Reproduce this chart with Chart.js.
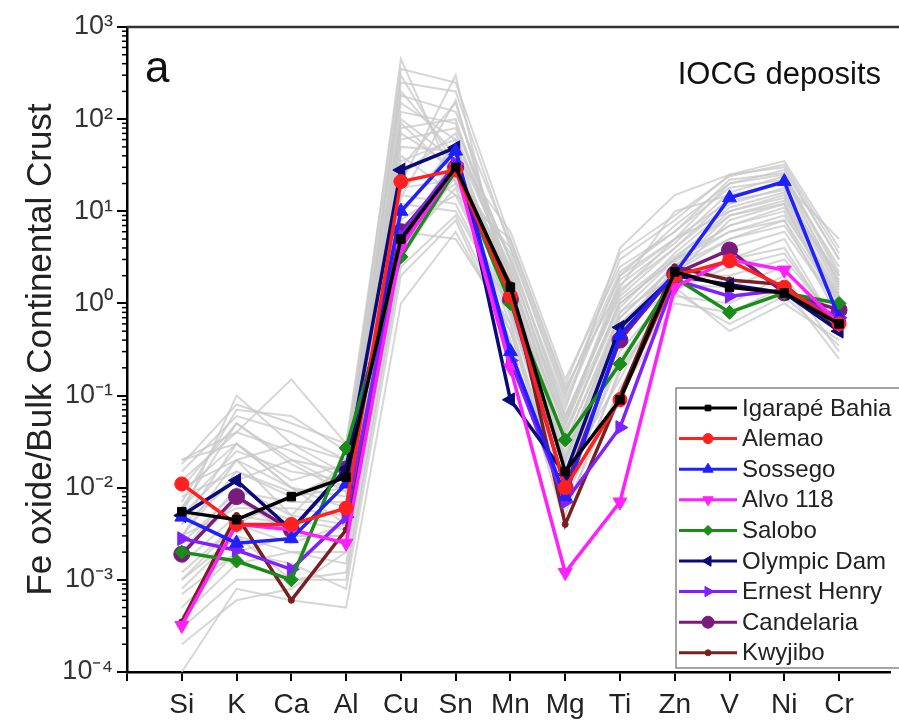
<!DOCTYPE html>
<html>
<head>
<meta charset="utf-8">
<script src="https://cdn.jsdelivr.net/npm/chart.js@4/dist/chart.umd.min.js"></script>
<style>
  html, body { margin: 0; padding: 0; background: #fff; }
  #wrap { width: 899px; height: 725px; position: relative; }
</style>
</head>
<body>
<div id="wrap"><canvas id="chartCanvas" width="899" height="725"></canvas></div>
<script>
// elements on the x axis
const elements = ['Si', 'K', 'Ca', 'Al', 'Cu', 'Sn', 'Mn', 'Mg', 'Ti', 'Zn', 'V', 'Ni', 'Cr'];
const yDecades = [-4, -3, -2, -1, 0, 1, 2, 3];

// deposit averages (Fe oxide / bulk continental crust)
const igarapeBahia = [0.0055, 0.0045, 0.008, 0.013, 5, 30, 1.5, 0.015, 0.09, 2.2, 1.5, 1.3, 0.6];
const alemao       = [0.011, 0.004, 0.004, 0.006, 21, 28, 1.2, 0.01, 0.09, 2.0, 2.9, 1.5, 0.6];
const sossego      = [0.0048, 0.0025, 0.0028, 0.011, 10, 45, 0.3, 0.008, 0.45, 2.1, 14, 21, 0.7];
const alvo118      = [0.00032, 0.004, 0.0035, 0.0025, 4, 30, 0.2, 0.0012, 0.007, 1.5, 3.0, 2.3, 0.6];
const salobo       = [0.002, 0.0016, 0.001, 0.027, 3.2, 28, 1.0, 0.033, 0.22, 1.9, 0.8, 1.3, 1.0];
const olympicDam   = [0.005, 0.012, 0.0035, 0.016, 28, 49, 0.09, 0.014, 0.55, 2.0, 1.6, 1.3, 0.5];
const ernestHenry  = [0.0028, 0.0021, 0.0013, 0.0048, 5.5, 33, 0.24, 0.007, 0.045, 1.8, 1.2, 1.4, 0.7];
const candelaria   = [0.0019, 0.008, 0.0035, 0.016, 6, 30, 1.1, 0.01, 0.4, 2.1, 3.8, 1.3, 0.85];
const kwyjibo      = [0.00035, 0.005, 0.0006, 0.0035, 4.5, 27, 1.6, 0.004, 0.1, 2.5, 1.8, 1.6, 0.5];

// individual samples drawn in grey behind the averages
const greyLines = [
  [0.003, 0.02, 0.01, 0.008, 300, 30, 2, 0.05, 1, 3, 10, 15, 1],
  [0.01, 0.05, 0.02, 0.015, 150, 60, 3, 0.08, 2, 5, 20, 25, 2],
  [0.002, 0.01, 0.005, 0.004, 80, 100, 1.5, 0.03, 0.8, 2, 8, 12, 0.8],
  [0.005, 0.1, 0.03, 0.02, 450, 20, 4, 0.1, 3, 8, 25, 30, 3],
  [0.001, 0.003, 0.002, 0.002, 20, 300, 0.8, 0.02, 0.5, 1.5, 3, 5, 0.5],
  [0.02, 0.04, 0.15, 0.03, 40, 15, 5, 0.12, 1.5, 10, 15, 20, 5],
  [0.0001, 0.0008, 0.0006, 0.0005, 1, 6, 0.5, 0.005, 0.2, 1.2, 1, 2, 0.3],
  [0.008, 0.015, 0.008, 0.01, 6, 5, 0.6, 0.008, 0.3, 1.5, 0.5, 1, 0.4],
  [0.004, 0.03, 0.01, 0.006, 10, 50, 2.5, 0.06, 1.2, 4, 12, 18, 1.5],
  [0.0003, 0.001, 0.001, 0.001, 3, 25, 1, 0.015, 0.15, 2, 2, 3, 0.6],
  [0.015, 0.06, 0.04, 0.02, 200, 40, 6, 0.15, 2.5, 6, 18, 22, 2.5],
  [0.002, 0.008, 0.003, 0.003, 15, 12, 0.8, 0.01, 0.4, 2.5, 5, 8, 0.7],
  [0.006, 0.025, 0.015, 0.012, 60, 80, 3, 0.07, 4, 15, 25, 35, 4],
  [0.0005, 0.002, 0.0015, 0.0008, 2, 8, 0.4, 0.004, 0.1, 1, 0.8, 1.5, 0.25],
  [0.003, 0.006, 0.006, 0.005, 30, 150, 1.8, 0.04, 1, 3, 6, 9, 1.2],
  [0.01, 0.02, 0.005, 0.02, 100, 35, 2, 0.02, 0.6, 2, 4, 6, 0.9],
  [0.001, 0.004, 0.008, 0.015, 8, 20, 1.2, 0.05, 1.8, 5, 10, 14, 2],
  [0.007, 0.07, 0.06, 0.025, 250, 200, 4, 0.09, 2, 7, 20, 28, 3],
  [0.0002, 0.0006, 0.0008, 0.002, 5, 40, 0.7, 0.012, 0.5, 1.8, 3, 4, 0.5],
  [0.02, 0.03, 0.01, 0.004, 12, 10, 0.9, 0.02, 0.8, 3, 7, 10, 1],
  [0.0015, 0.005, 0.004, 0.006, 35, 60, 2.2, 0.03, 0.7, 2.5, 9, 13, 1.3],
  [0.012, 0.04, 0.025, 0.012, 90, 25, 3.5, 0.06, 1.4, 4, 14, 20, 1.8],
  [0.0007, 0.002, 0.003, 0.003, 7, 15, 0.9, 0.009, 0.25, 1.6, 1.5, 2.5, 0.45],
  [0.004, 0.012, 0.02, 0.01, 25, 70, 2, 0.04, 0.9, 3.5, 11, 16, 1.4],
  [0.009, 0.03, 0.012, 0.018, 180, 120, 4.5, 0.11, 2.2, 6, 22, 26, 2.2],
  [0.0025, 0.009, 0.007, 0.007, 50, 45, 1.6, 0.025, 0.6, 2.2, 5, 7, 0.9],
  [0.0004, 0.0015, 0.002, 0.0015, 4, 18, 0.6, 0.006, 0.12, 1.3, 0.6, 1.2, 0.35],
  [0.006, 0.05, 0.018, 0.009, 120, 90, 2.8, 0.045, 1.6, 4.5, 16, 24, 1.6],
  [0.003, 0.015, 0.009, 0.011, 18, 22, 1.4, 0.018, 0.5, 2.8, 7, 11, 1.1],
  [0.0012, 0.004, 0.0025, 0.004, 9, 55, 1.1, 0.035, 1.1, 3.2, 9, 12, 1.2],
  [0.018, 0.08, 0.05, 0.03, 350, 250, 5, 0.13, 3.5, 9, 24, 32, 3.5],
  [0.0008, 0.003, 0.001, 0.0012, 2.5, 9, 0.5, 0.007, 0.18, 1.4, 2.5, 3.5, 0.55],
  [0.005, 0.02, 0.03, 0.014, 70, 30, 2.4, 0.055, 1.3, 5, 13, 17, 1.7],
  [0.002, 0.007, 0.0045, 0.0035, 14, 160, 1.3, 0.022, 0.7, 2.6, 6, 8, 1]
];

const deposits = [
  ['Igarapé Bahia', igarapeBahia, '#000000', 'rect', 0, 6],
  ['Alemao', alemao, '#ff2020', 'circle', 0, 7],
  ['Sossego', sossego, '#1f1fff', 'triangle', 0, 8],
  ['Alvo 118', alvo118, '#ff20ff', 'triangle', 180, 8],
  ['Salobo', salobo, '#1a8c1a', 'rectRot', 0, 7],
  ['Olympic Dam', olympicDam, '#0a0a7a', 'triangle', -90, 8],
  ['Ernest Henry', ernestHenry, '#7f20ff', 'triangle', 90, 8],
  ['Candelaria', candelaria, '#7a1a7a', 'circle', 0, 8],
  ['Kwyjibo', kwyjibo, '#7a1f1f', 'circle', 0, 3]
];

const toXY = (vals) => vals.map((v, i) => ({x: i, y: v}));

let datasets = deposits.map((d) => ({
  label: d[0],
  data: toXY(d[1]),
  borderColor: d[2],
  backgroundColor: d[2],
  pointStyle: d[3],
  pointRotation: d[4],
  pointRadius: d[5],
  pointBorderWidth: 1,
  borderWidth: 3.5,
  order: 0,
  isDeposit: true
}));

greyLines.forEach((g, i) => {
  datasets.push({
    label: 'sample ' + (i + 1),
    data: toXY(g),
    borderColor: 'rgba(200,200,200,0.75)',
    borderWidth: 2,
    pointRadius: 0,
    order: 1,
    isDeposit: false
  });
});

const sup = {'-': '\u207B', '0': '\u2070', '1': '\u00B9', '2': '\u00B2', '3': '\u00B3', '4': '\u2074'};
const powerLabel = (e) => '10' + String(e).split('').map((c) => sup[c]).join('');

// minor ticks on the log axis, frame line on top, panel texts and legend
const decorPlugin = {
  id: 'decor',
  afterDraw(chart) {
    const ctx = chart.ctx, area = chart.chartArea, ys = chart.scales.y;
    ctx.save();
    ctx.strokeStyle = '#000';
    ctx.lineWidth = 1.5;
    for (let d = -4; d < 3; d++) {
      for (let m = 2; m < 10; m++) {
        let py = ys.getPixelForValue(m * Math.pow(10, d));
        ctx.beginPath();
        ctx.moveTo(area.left - 5, py);
        ctx.lineTo(area.left, py);
        ctx.stroke();
      }
    }
    ctx.strokeStyle = '#333';
    ctx.lineWidth = 2.5;
    ctx.beginPath();
    ctx.moveTo(area.left, area.top);
    ctx.lineTo(chart.width, area.top);
    ctx.stroke();

    ctx.fillStyle = '#111';
    ctx.textBaseline = 'alphabetic';
    ctx.font = '44px "Liberation Sans", Arial, sans-serif';
    ctx.textAlign = 'left';
    ctx.fillText('a', area.left + 18, 82);
    ctx.font = '31px "Liberation Sans", Arial, sans-serif';
    ctx.textAlign = 'right';
    ctx.fillText('IOCG deposits', 881, 84);

    // legend box
    const bx = 676, by = 388, bw = 260, bh = 280, rowH = 30.6;
    ctx.fillStyle = '#fff';
    ctx.fillRect(bx, by, bw, bh);
    ctx.strokeStyle = '#888';
    ctx.lineWidth = 1.5;
    ctx.strokeRect(bx, by, bw, bh);
    ctx.font = '24px "Liberation Sans", Arial, sans-serif';
    ctx.textAlign = 'left';
    ctx.textBaseline = 'middle';
    chart.data.datasets.filter((ds) => ds.isDeposit).forEach((ds, i) => {
      let cy = 408 + i * rowH;
      ctx.strokeStyle = ds.borderColor;
      ctx.lineWidth = 3;
      ctx.beginPath();
      ctx.moveTo(679, cy);
      ctx.lineTo(737, cy);
      ctx.stroke();
      ctx.fillStyle = ds.borderColor;
      ctx.lineWidth = 1;
      Chart.helpers.drawPoint(ctx, {
        pointStyle: ds.pointStyle,
        rotation: ds.pointRotation,
        radius: Math.max(3, ds.pointRadius - 2),
        borderWidth: 1
      }, 708, cy);
      ctx.fillStyle = '#222';
      ctx.fillText(ds.label, 742, cy + 1);
    });
    ctx.restore();
  }
};

const chart = new Chart(document.getElementById('chartCanvas').getContext('2d'), {
  type: 'line',
  data: { datasets: datasets },
  plugins: [decorPlugin],
  options: {
    responsive: false,
    animation: false,
    layout: { padding: { top: 27, right: 0, bottom: 0, left: 0 } },
    plugins: { legend: { display: false }, tooltip: { enabled: false } },
    scales: {
      x: {
        type: 'linear',
        min: -1,
        max: 12.93,
        afterBuildTicks: (scale) => {
          scale.ticks = [-1].concat(elements.map((e, i) => i)).map((v) => ({value: v}));
        },
        afterFit: (scale) => { scale.height = 53; },
        grid: { drawOnChartArea: false, drawTicks: true, tickLength: 9, color: '#000', lineWidth: 2 },
        border: { display: true, color: '#000', width: 2.5 },
        ticks: {
          autoSkip: false,
          maxRotation: 0,
          padding: 7,
          color: '#222',
          font: { family: '"Liberation Sans", Arial, sans-serif', size: 28 },
          callback: (v) => (v >= 0 && v < elements.length ? elements[v] : '')
        }
      },
      y: {
        type: 'logarithmic',
        min: 1e-4,
        max: 1e3,
        afterBuildTicks: (scale) => {
          scale.ticks = yDecades.map((e) => ({value: Math.pow(10, e)}));
        },
        afterFit: (scale) => { scale.width = 127; },
        grid: { drawOnChartArea: false, drawTicks: true, tickLength: 10, color: '#000', lineWidth: 2 },
        border: { display: true, color: '#000', width: 2.5 },
        ticks: {
          autoSkip: false,
          padding: 4,
          color: '#333',
          font: { family: '"Liberation Sans", Arial, sans-serif', size: 27 },
          callback: (v) => powerLabel(Math.round(Math.log10(v)))
        },
        title: {
          display: true,
          text: 'Fe oxide/Bulk Continental Crust',
          color: '#222',
          padding: { top: 20, bottom: 0 },
          font: { family: '"Liberation Sans", Arial, sans-serif', size: 35 }
        }
      }
    }
  }
});
</script>
</body>
</html>
